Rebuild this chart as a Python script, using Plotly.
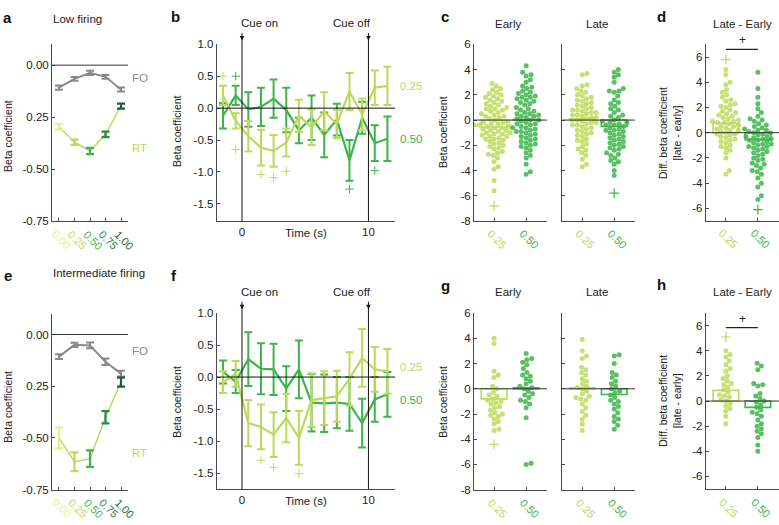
import plotly.graph_objects as go

W, H = 779, 525
FONT = "Liberation Sans, Arial, sans-serif"
TXT = "#222222"
AXC = "#4a4a4a"

PALE, C25, C50, C75, C100 = "#e9ee8c", "#bdd95b", "#3db54a", "#2b8b47", "#1d5f36"
GREY = "#8a8a8a"

# ── panels a / e : beta vs. level ────────────────────────────────────────────
levels = ["0.00", "0.25", "0.50", "0.75", "1.00"]
level_colors = [PALE, C25, C50, C75, C100]

fo_low = [-0.108, -0.066, -0.037, -0.056, -0.117]
fo_low_err = [0.010, 0.009, 0.010, 0.009, 0.010]
rt_low = [-0.296, -0.371, -0.413, -0.333, -0.197]
rt_low_err = [0.014, 0.013, 0.015, 0.013, 0.012]

fo_mid = [-0.107, -0.050, -0.053, -0.132, -0.189]
fo_mid_err = [0.012, 0.010, 0.014, 0.016, 0.014]
rt_mid = [-0.50, -0.615, -0.60, -0.40, -0.23]
rt_mid_err = [0.050, 0.045, 0.040, 0.030, 0.022]

# ── panels b / f : time course ───────────────────────────────────────────────
time_s = [-1.5, -0.5, 0.5, 1.5, 2.5, 3.5, 4.5, 5.5, 6.5, 7.5, 8.5, 9.5, 10.5, 11.5]
b25 = [0.20, -0.20, -0.44, -0.62, -0.67, -0.54, -0.12, -0.30, -0.05, -0.25, 0.26, -0.10, 0.32, 0.35]
b25_err = [0.15, 0.12, 0.24, 0.28, 0.25, 0.22, 0.25, 0.28, 0.30, 0.22, 0.29, 0.25, 0.27, 0.30]
b50 = [-0.12, 0.20, -0.02, 0.02, 0.15, -0.03, -0.35, -0.15, -0.42, -0.18, -0.82, -0.15, -0.55, -0.48]
b50_err = [0.20, 0.15, 0.27, 0.30, 0.30, 0.35, 0.20, 0.35, 0.35, 0.25, 0.32, 0.25, 0.28, 0.35]
b_plus25_t = [-1.5, -0.5, 1.5, 2.5, 3.5]
b_plus25_y = [0.50, -0.65, -1.04, -1.09, -0.99]
b_plus50_t = [-0.5, 8.5, 10.5]
b_plus50_y = [0.50, -1.27, -0.98]

f25 = [-0.08, 0.05, -0.72, -0.78, -0.90, -0.64, -0.95, -0.36, -0.33, -0.30, -0.03, 0.30, 0.12, 0.09]
f25_err = [0.17, 0.20, 0.36, 0.35, 0.35, 0.38, 0.42, 0.42, 0.42, 0.40, 0.42, 0.45, 0.35, 0.35]
f50 = [0.08, -0.07, 0.28, 0.13, 0.12, -0.18, 0.12, -0.40, -0.41, -0.40, -0.42, -0.72, -0.35, -0.27]
f50_err = [0.18, 0.18, 0.42, 0.40, 0.40, 0.35, 0.45, 0.45, 0.45, 0.40, 0.42, 0.38, 0.35, 0.35]
f_plus25_t = [1.5, 2.5, 4.5]
f_plus25_y = [-1.30, -1.41, -1.51]

# ── panels c / d / g / h : per-neuron values ─────────────────────────────────
groups = ["0.25", "0.50"]

c_early_25 = [2.9, 2.7, 2.5, 2.4, 2.2, 2.1, 2.0, 1.9, 1.8, 1.7, 1.6, 1.5, 1.4, 1.3, 1.2, 1.1,
              1.0, 0.9, 0.9, 0.8, 0.7, 0.6, 0.5, 0.4, 0.3, 0.3, 0.2, 0.1, 0.0, -0.1, -0.2, -0.2,
              -0.3, -0.3, -0.4, -0.4, -0.5, -0.5, -0.6, -0.6, -0.7, -0.8, -0.8, -0.9, -1.0, -1.0,
              -1.1, -1.1, -1.2, -1.3, -1.3, -1.4, -1.5, -1.5, -1.6, -1.7, -1.8, -1.9, -2.0, -2.1,
              -2.2, -2.3, -2.5, -2.6, -2.7, -2.8, -3.0, -3.3, -3.7, -3.9, -4.8, -5.6]
c_early_50 = [4.3, 3.8, 3.6, 3.5, 3.2, 3.0, 2.7, 2.6, 2.5, 2.3, 2.2, 2.1, 2.0, 1.9, 1.8, 1.8,
              1.7, 1.6, 1.5, 1.4, 1.3, 1.2, 1.0, 0.9, 0.8, 0.7, 0.6, 0.5, 0.5, 0.4, 0.3, 0.3,
              0.2, 0.1, 0.0, 0.0, -0.1, -0.2, -0.3, -0.3, -0.4, -0.5, -0.6, -0.6, -0.7, -0.8,
              -0.9, -0.9, -1.0, -1.1, -1.2, -1.3, -1.4, -1.5, -1.6, -1.7, -1.8, -1.9, -2.0, -2.1,
              -2.2, -2.4, -2.6, -2.8, -3.0, -3.5, -4.1, -4.3]
c_late_25 = [3.7, 3.6, 2.8, 2.7, 2.5, 2.3, 2.2, 2.0, 1.9, 1.8, 1.7, 1.6, 1.5, 1.4, 1.3, 1.2,
             1.1, 1.0, 0.9, 0.8, 0.8, 0.7, 0.6, 0.6, 0.5, 0.4, 0.4, 0.3, 0.2, 0.2, 0.1, 0.0,
             0.0, -0.1, -0.2, -0.2, -0.3, -0.4, -0.4, -0.5, -0.6, -0.7, -0.8, -0.9, -1.0, -1.1,
             -1.2, -1.3, -1.5, -1.6, -1.7, -1.9, -2.1, -2.3, -2.4, -2.6, -2.8, -3.1, -3.5, -3.7]
c_late_50 = [4.0, 3.8, 3.6, 3.4, 3.0, 2.5, 2.3, 2.3, 2.2, 1.9, 1.6, 1.4, 1.3, 1.1, 0.9, 0.8,
             0.6, 0.4, 0.3, 0.2, 0.0, -0.1, -0.2, -0.2, -0.3, -0.4, -0.4, -0.5, -0.6, -0.7,
             -0.8, -0.8, -0.9, -1.0, -1.1, -1.2, -1.3, -1.4, -1.5, -1.6, -1.7, -1.8, -1.9,
             -2.0, -2.1, -2.2, -2.3, -2.4, -2.6, -2.7, -2.8, -3.0, -3.2, -3.3, -3.5, -4.0, -4.4]
d_25 = [5.0, 4.6, 4.0, 3.8, 3.4, 3.2, 3.0, 2.8, 2.6, 2.5, 2.3, 2.2, 2.1, 2.0, 1.8, 1.7, 1.6,
        1.5, 1.4, 1.3, 1.2, 1.1, 1.0, 0.9, 0.9, 0.8, 0.8, 0.7, 0.6, 0.5, 0.5, 0.4, 0.3, 0.2,
        0.2, 0.1, 0.0, -0.1, -0.1, -0.2, -0.3, -0.4, -0.5, -0.6, -0.7, -0.8, -1.0, -1.1,
        -1.2, -1.4, -1.6, -2.0, -3.0, -3.3]
d_50 = [4.8, 3.5, 2.8, 2.3, 1.9, 1.6, 1.3, 1.1, 1.0, 0.9, 0.7, 0.6, 0.5, 0.4, 0.3, 0.2, 0.2,
        0.1, 0.0, 0.0, -0.1, -0.2, -0.3, -0.3, -0.4, -0.5, -0.5, -0.6, -0.6, -0.7, -0.8,
        -0.9, -0.9, -1.0, -1.1, -1.1, -1.2, -1.3, -1.4, -1.5, -1.6, -1.7, -1.8, -2.0, -2.1,
        -2.2, -2.4, -2.5, -2.6, -2.8, -3.0, -3.1, -3.3, -3.6, -4.0, -4.3, -5.0, -5.3]

g_early_25 = [4.0, 3.6, 1.4, 1.1, 0.9, 0.2, 0.0, -0.3, -0.5, -0.6, -0.8, -0.9, -1.0, -1.1, -1.2,
              -1.4, -1.5, -1.7, -1.9, -2.0, -2.1, -2.2, -2.4, -2.6, -2.8, -3.2, -3.3]
g_early_50 = [2.8, 2.4, 2.3, 2.1, 1.9, 1.6, 1.3, 1.1, 1.0, 0.8, 0.6, 0.4, 0.2, 0.1, 0.0, -0.2,
              -0.4, -0.5, -0.7, -0.9, -1.0, -1.2, -1.5, -2.3, -5.9, -6.0]
g_late_25 = [3.9, 3.0, 2.6, 2.4, 1.7, 1.5, 1.3, 1.1, 0.8, 0.6, 0.4, 0.2, 0.1, 0.0, -0.2, -0.4,
             -0.6, -0.7, -0.8, -0.9, -1.2, -1.5, -1.8, -2.1, -2.4, -2.8, -3.3]
g_late_50 = [2.7, 2.6, 2.0, 1.3, 1.1, 0.9, 0.6, 0.4, 0.2, 0.0, -0.2, -0.3, -0.5, -0.7, -0.9,
             -1.0, -1.2, -1.4, -1.6, -1.9, -2.2, -2.4, -2.6, -2.9, -3.2]
h_25 = [4.0, 3.7, 3.5, 3.2, 2.9, 2.6, 2.4, 2.0, 1.8, 1.6, 1.4, 1.3, 1.1, 0.9, 0.7, 0.5, 0.4,
        0.3, 0.1, 0.0, -0.2, -0.4, -0.6, -0.8, -1.2, -1.8]
h_50 = [3.0, 2.8, 2.5, 1.4, 1.3, 1.2, 0.6, 0.4, 0.2, 0.0, -0.1, -0.3, -0.5, -0.7, -0.9, -1.0,
        -1.2, -1.5, -1.8, -2.0, -2.2, -2.4, -2.6, -2.9, -3.5, -4.0]

# group means (bars) and outliers ("+")
c_early_mean = [-0.55, 0.05]
c_late_mean = [0.10, -0.50]
d_mean = [0.75, -0.55]
g_early_mean = [-0.80, 0.08]
g_late_mean = [0.08, -0.45]
h_mean = [0.85, -0.50]
c_early_out = [[-6.8], []]
c_late_out = [[], [-5.8]]
d_out = [[5.8], [-6.1]]
g_early_out = [[-4.4], []]
g_late_out = [[], []]
h_out = [[5.1], []]

# ─────────────────────────────────────────────────────────────────────────────


def xdom(l, r):
    return [l / W, min(r / W, 1.0)]


def ydom(t, b):
    return [1 - b / H, 1 - t / H]


def py(y):
    return 1 - y / H


def ids(n):
    s = "" if n == 1 else str(n)
    return "x" + s, "y" + s


def swarm_x(vals, center, xscale, yscale, d=4.8):
    """Beeswarm layout in pixel space, returned in data units."""
    order = sorted(range(len(vals)), key=lambda i: vals[i])
    placed = []
    xs = [center] * len(vals)
    for i in order:
        y = vals[i] * yscale
        near = [(a, b) for a, b in placed if abs(b - y) < d]
        off = 0.0
        for k in range(400):
            off = (k // 2 + k % 2) * 0.7 * (-1 if k % 2 == 0 else 1)
            if all((off - a) ** 2 + (y - b) ** 2 >= d * d for a, b in near):
                break
        placed.append((off, y))
        xs[i] = center + off / xscale
    return xs


fig = go.Figure()
ann = []
shapes = []


def text(x, y, s, size=11.5, color=TXT, xanchor="center", **kw):
    ann.append(dict(x=x / W, y=py(y), xref="paper", yref="paper", text=s, showarrow=False,
                    xanchor=xanchor, yanchor="middle",
                    font=dict(family=FONT, size=size, color=color), **kw))


def tick_label(xa, xv, y, s, color):
    ann.append(dict(x=xv, y=py(y), xref=xa, yref="paper", text=s, showarrow=False,
                    textangle=45, xshift=3, xanchor="center", yanchor="middle",
                    font=dict(family=FONT, size=11, color=color)))


def hzero(n, color="#333"):
    xa, ya = ids(n)
    shapes.append(dict(type="line", xref=xa + " domain", yref=ya, x0=0, x1=1, y0=0, y1=0,
                       line=dict(color=color, width=1)))


# ── a / e ────────────────────────────────────────────────────────────────────
def level_panel(n, fo, fo_err, rt, rt_err, label_y):
    xa, ya = ids(n)
    xs = [1, 2, 3, 4, 5]
    hzero(n)
    fig.add_trace(go.Scatter(x=xs, y=fo, mode="lines", line=dict(color=GREY, width=2),
                             error_y=dict(type="data", array=fo_err, color=GREY, thickness=2, width=4),
                             xaxis=xa, yaxis=ya))
    fig.add_trace(go.Scatter(x=xs, y=rt, mode="lines", line=dict(color=C25, width=1.5),
                             xaxis=xa, yaxis=ya))
    for i in range(5):
        fig.add_trace(go.Scatter(x=[xs[i]], y=[rt[i]], mode="markers",
                                 marker=dict(size=2, color=level_colors[i]),
                                 error_y=dict(type="data", array=[rt_err[i]], color=level_colors[i],
                                              thickness=2.2, width=4),
                                 xaxis=xa, yaxis=ya))
        tick_label(xa, xs[i], label_y, levels[i], level_colors[i])


level_panel(1, fo_low, fo_low_err, rt_low, rt_low_err, 239)
level_panel(6, fo_mid, fo_mid_err, rt_mid, rt_mid_err, 514)


# ── b / f ────────────────────────────────────────────────────────────────────
def time_panel(n, y25, e25, y50, e50, plus, top, bottom):
    xa, ya = ids(n)
    hzero(n, "#111")
    for xv in (0, 10):
        shapes.append(dict(type="line", xref=xa, yref="paper", x0=xv, x1=xv,
                           y0=py(bottom), y1=py(top - 6), line=dict(color="#111", width=1)))
    for yv, ev, col in ((y50, e50, C50), (y25, e25, C25)):
        fig.add_trace(go.Scatter(x=time_s, y=yv, mode="lines", line=dict(color=col, width=2.2),
                                 error_y=dict(type="data", array=ev, color=col, thickness=2, width=4),
                                 xaxis=xa, yaxis=ya))
    for tt, yy, col in plus:
        fig.add_trace(go.Scatter(x=tt, y=yy, mode="markers",
                                 marker=dict(symbol="cross-thin", size=6, line=dict(color=col, width=1)),
                                 xaxis=xa, yaxis=ya))
    for xv in (0, 10):
        ann.append(dict(x=xv, y=py(top - 4), xref=xa, yref="paper",
                        text="", showarrow=True, ax=0, ay=-9, arrowhead=2, arrowsize=0.9,
                        arrowwidth=1, arrowcolor="#111"))


time_panel(2, b25, b25_err, b50, b50_err,
           [(b_plus25_t, b_plus25_y, C25), (b_plus50_t, b_plus50_y, C50)], 39.3, 220)
time_panel(7, f25, f25_err, f50, f50_err, [(f_plus25_t, f_plus25_y, C25)], 314.3, 494.3)


# ── c / d / g / h ────────────────────────────────────────────────────────────
def swarm_panel(n, data, means, outs, xscale, yscale, label_y):
    xa, ya = ids(n)
    cols = [C25, C50]
    fig.add_trace(go.Bar(x=[1, 2], y=means, width=0.8, xaxis=xa, yaxis=ya,
                         marker=dict(color="rgba(255,255,255,0)", line=dict(color=cols, width=1.6))))
    for k in range(2):
        fig.add_trace(go.Scatter(x=swarm_x(data[k], k + 1, xscale, yscale), y=data[k], mode="markers",
                                 marker=dict(size=5, color=cols[k], opacity=0.85),
                                 xaxis=xa, yaxis=ya))
        if outs[k]:
            fig.add_trace(go.Scatter(x=[k + 1] * len(outs[k]), y=outs[k], mode="markers",
                                     marker=dict(symbol="cross-thin", size=7,
                                                 line=dict(color=cols[k], width=1.2)),
                                     xaxis=xa, yaxis=ya))
        tick_label(xa, k + 1, label_y, groups[k], cols[k])
    hzero(n)


swarm_panel(3, [c_early_25, c_early_50], c_early_mean, c_early_out, 32, 12.9, 238)
swarm_panel(4, [c_late_25, c_late_50], c_late_mean, c_late_out, 32, 12.9, 238)
swarm_panel(5, [d_25, d_50], d_mean, d_out, 32, 12.85, 238)
swarm_panel(8, [g_early_25, g_early_50], g_early_mean, g_early_out, 32, 12.9, 514)
swarm_panel(9, [g_late_25, g_late_50], g_late_mean, g_late_out, 32, 12.9, 514)
swarm_panel(10, [h_25, h_50], h_mean, h_out, 32, 12.8, 514)

# significance bars
shapes.append(dict(type="line", xref="x5", yref="y5", x0=1, x1=2, y0=6.6, y1=6.6,
                   line=dict(color="#222", width=1.2)))
shapes.append(dict(type="line", xref="x10", yref="y10", x0=1, x1=2, y0=5.85, y1=5.85,
                   line=dict(color="#222", width=1.2)))
text(742, 35, "+", size=12)
text(742, 320, "+", size=12)


# ── axes ─────────────────────────────────────────────────────────────────────
def base_axis(**kw):
    d = dict(showline=True, linecolor=AXC, linewidth=1, showgrid=False, zeroline=False,
             ticks="inside", ticklen=3, tickwidth=1, tickcolor=AXC,
             tickfont=dict(family=FONT, size=11.5, color=TXT), fixedrange=True)
    d.update(kw)
    return d


a_ticks = dict(tickvals=[0, -0.25, -0.5, -0.75], ticktext=["0.00", "0.25", "-0.50", "-0.75"])
b_ticks = dict(tickvals=[1, 0.5, 0, -0.5, -1, -1.5], ticktext=["1.0", "0.5", "0.0", "-0.5", "-1.0", "-1.5"])
c_ticks = dict(tickvals=[6, 4, 2, 0, -2, -4, -6, -8], ticktext=["6", "4", "2", "0", "-2", "-4", "-6", "-8"])
d_ticks = dict(tickvals=[6, 4, 2, 0, -2, -4, -6], ticktext=["6", "4", "2", "0", "-2", "-4", "-6"])

spec = {
    1: (xdom(52, 128), ydom(39.3, 220), [0.55, 5.45], [-0.75, 0.1], a_ticks, True),
    2: (xdom(216.7, 395), ydom(39.3, 220), [-2, 12.1], [-1.77, 1.0], b_ticks, True),
    3: (xdom(474, 547), ydom(39.3, 220), [0.375, 2.65], [-8, 6], c_ticks, True),
    4: (xdom(562.3, 635), ydom(39.3, 220), [0.375, 2.65], [-8, 6], c_ticks, False),
    5: (xdom(705.7, 779), ydom(39.3, 220), [0.37, 2.66], [-7, 7], d_ticks, True),
    6: (xdom(52, 128), ydom(315, 495), [0.55, 5.45], [-0.75, 0.1], a_ticks, True),
    7: (xdom(216.7, 395), ydom(314.3, 494.3), [-2, 12.1], [-1.75, 1.0], b_ticks, True),
    8: (xdom(474, 547), ydom(314.3, 495), [0.375, 2.65], [-8, 6], c_ticks, True),
    9: (xdom(562.3, 635), ydom(314.3, 495), [0.375, 2.65], [-8, 6], c_ticks, False),
    10: (xdom(705.7, 779), ydom(314.3, 494.3), [0.37, 2.66], [-7, 7], d_ticks, True),
}
layout_axes = {}
for n, (xd, yd, xr, yr, yt, ylab) in spec.items():
    xa, ya = ids(n)
    sfx = xa[1:]
    if n in (2, 7):
        xax = base_axis(domain=xd, range=xr, anchor=ya, tickvals=[0, 10], ticktext=["0", "10"],
                        ticks="")
    elif n in (1, 6):
        xax = base_axis(domain=xd, range=xr, anchor=ya, tickvals=[1, 2, 3, 4, 5],
                        showticklabels=False)
    else:
        xax = base_axis(domain=xd, range=xr, anchor=ya, tickvals=[1, 2], showticklabels=False)
    layout_axes["xaxis" + sfx] = xax
    layout_axes["yaxis" + sfx] = base_axis(domain=yd, range=yr, anchor=xa,
                                           showticklabels=ylab, **yt)

# ── text ─────────────────────────────────────────────────────────────────────
for s, x, y in (("a", 8, 12), ("b", 175, 11), ("c", 445, 11), ("d", 661, 11),
                ("e", 8, 276), ("f", 174, 276), ("g", 445, 286), ("h", 661, 285)):
    text(x, y, f"<b>{s}</b>", size=15, color="#111")

text(77, 13, "Low firing")
text(99, 273, "Intermediate firing")
text(130, 74, "FO", color=GREY, xanchor="left")
text(130, 145, "RT", color=C25, xanchor="left")
text(130, 353, "FO", color=GREY, xanchor="left")
text(130, 457, "RT", color=C25, xanchor="left")

for x, y in ((8, 133), (8, 410), (177, 128), (177, 405), (443, 129), (443, 405)):
    text(x, y, "Beta coefficient", size=10.5, textangle=-90)
for y in (130, 404):
    text(670, y, "Diff. beta coefficient<br>[late - early]", size=10.5, textangle=-90)

for y in (18, 293):
    text(508, y, "Early")
    text(597, y, "Late")
    text(742, y, "Late - Early")

for lab_y, t25, t50, time_y in ((17, 82, 136, 232), (293, 369, 403, 507)):
    text(239, lab_y, "Cue on", xanchor="left")
    text(373, lab_y, "Cue off", xanchor="right")
    text(398, t25, "0.25", color=C25, xanchor="left")
    text(398, t50, "0.50", color=C50, xanchor="left")
    text(306, time_y, "Time (s)")

fig.update_layout(
    width=W, height=H,
    margin=dict(l=0, r=0, t=0, b=0),
    paper_bgcolor="white", plot_bgcolor="rgba(0,0,0,0)",
    showlegend=False, barmode="overlay",
    font=dict(family=FONT, color=TXT),
    annotations=ann, shapes=shapes,
    **layout_axes,
)
fig.write_html("out.html", config={"displayModeBar": False},
               post_script="document.body.style.margin='0';")
